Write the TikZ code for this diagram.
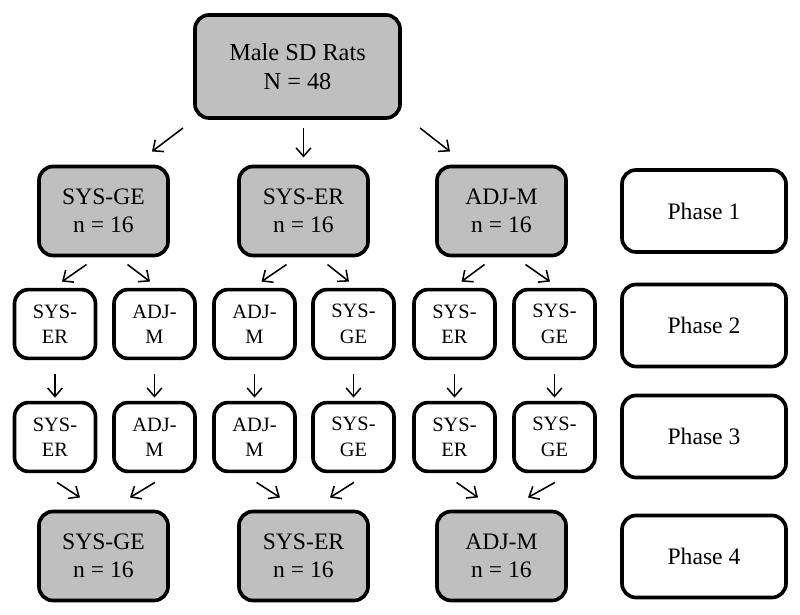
\documentclass[tikz,border=0pt]{standalone}
\usepackage{fontspec}
\setmainfont{Liberation Serif}
\usetikzlibrary{
    arrows.meta,
    positioning
}
\tikzset{
    % Colors
    group color/.style={fill=black!25},
    %
    % Boxes
    base box/.style={draw,rounded corners=10pt,line width=2.6pt,align=center,inner sep=0pt,outer sep=0pt},
    top box/.style={base box,group color,minimum width=5.125cm,minimum height=2.575cm,font=\fontsize{17.3}{21}\selectfont},
    group box/.style={base box,group color,minimum width=3.225cm,minimum height=2.225cm,font=\fontsize{16.8}{20}\selectfont},
    order box/.style={base box,minimum width=2.025cm,minimum height=1.72cm,font=\fontsize{14.5}{18}\selectfont},
    phase box/.style={base box,minimum width=4.1cm,minimum height=2.05cm,font=\fontsize{16.8}{20}\selectfont},
    %
    % Arrows
    arrow tip/.tip={Straight Barb[length=6pt,width=10.5pt]},
    arr/.style={-{arrow tip},line width=1.1pt}
}

\begin{document}
\begin{tikzpicture}[x=0.025cm,y=-0.025cm]
        \useasboundingbox (0,0) rectangle (800,615);
        \node[top box] (rats) at (297.5,66.5) {Male SD Rats\\N = 48};
        
        \node[group box] (ge1) at (103.5,211) {SYS-GE\\n = 16};
        \node[group box] (er1) at (303.5,211) {SYS-ER\\n = 16};
        \node[group box] (adj1) at (501.5,211) {ADJ-M\\n = 16};
        
        \node[order box] (ge2a) at (55,324) {SYS-\\ER};
        \node[order box] (ge2b) at (154.5,324) {ADJ-\\M};
        \node[order box] (er2a) at (254.5,324) {ADJ-\\M};
        \node[order box] (er2b) at (353.5,324) {SYS-\\GE};
        \node[order box] (adj2a) at (454.5,324) {SYS-\\ER};
        \node[order box] (adj2b) at (554.5,324) {SYS-\\GE};
        
        \node[order box] (ge3a) at (55,437) {SYS-\\ER};
        \node[order box] (ge3b) at (154.5,437) {ADJ-\\M};
        \node[order box] (er3a) at (254.5,437) {ADJ-\\M};
        \node[order box] (er3b) at (353.5,437) {SYS-\\GE};
        \node[order box] (adj3a) at (454.5,437) {SYS-\\ER};
        \node[order box] (adj3b) at (554.5,437) {SYS-\\GE};
        
        \node[group box] (ge4) at (103.5,556) {SYS-GE\\n = 16};
        \node[group box] (er4) at (303.5,556) {SYS-ER\\n = 16};
        \node[group box] (adj4) at (501.5,556) {ADJ-M\\n = 16};
        
        \node[phase box] (phase1) at (704,211) {Phase 1};
        \node[phase box] (phase2) at (704,325.5) {Phase 2};
        \node[phase box] (phase3) at (704,436.5) {Phase 3};
        \node[phase box] (phase4) at (704,556.5) {Phase 4};
        
        \draw[arr] ([shift={(-12,10)}]rats.south west) -- ([shift={(-16,-15)}]ge1.north east);
        \draw[arr] ([shift={(6,10)}]rats.south) -- ([shift={(0,-9)}]er1.north);
        \draw[arr] ([shift={(20,10)}]rats.south east) -- ([shift={(13,-15)}]adj1.north west);
        
        \foreach \g in {ge,er,adj}{
            \draw[arr] ([shift={(-17,9)}]\g1.south) -- ([shift={(7,-8)}]\g2a.north);
            \draw[arr] ([shift={(24,9)}]\g1.south) -- ([shift={(-4.5,-8)}]\g2b.north);
            \draw[arr] ([shift={(0,16)}]\g2a.south) -- ([shift={(0,-5)}]\g3a.north);
            \draw[arr] ([shift={(0,16)}]\g2b.south) -- ([shift={(0,-5)}]\g3b.north);
            \draw[arr] ([shift={(2,11)}]\g3a.south) -- ([shift={(-23.5,-14)}]\g4.north);
            \draw[arr] ([shift={(0.5,11)}]\g3b.south) -- ([shift={(26.5,-14)}]\g4.north);
        }
    \end{tikzpicture}
\end{document}
